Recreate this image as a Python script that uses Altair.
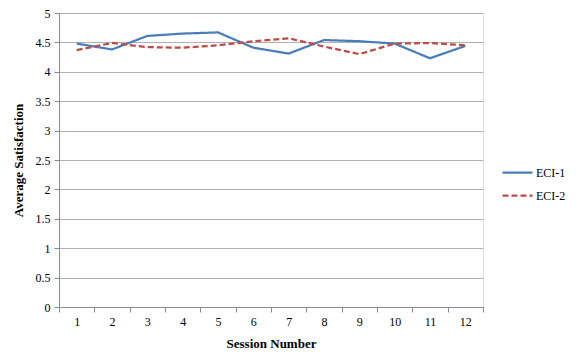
import altair as alt
import pandas as pd

sessions = [str(i) for i in range(1, 13)]
eci1 = [4.48, 4.38, 4.61, 4.65, 4.67, 4.41, 4.31, 4.54, 4.52, 4.48, 4.23, 4.44]
eci2 = [4.37, 4.49, 4.42, 4.41, 4.45, 4.52, 4.57, 4.43, 4.30, 4.48, 4.49, 4.45]
series_names = ["ECI-1", "ECI-2"]
y_ticks = [0, 0.5, 1, 1.5, 2, 2.5, 3, 3.5, 4, 4.5, 5]

rows = []
for name, vals in zip(series_names, [eci1, eci2]):
    for s, v in zip(sessions, vals):
        rows.append({"Session": s, "Value": v, "Series": name})
df = pd.DataFrame(rows)

FONT = "Liberation Serif"

chart = alt.Chart(df).mark_line(strokeWidth=2.25).encode(
    x=alt.X("Session:O", sort=sessions,
            scale=alt.Scale(paddingInner=0, paddingOuter=0, padding=0),
            axis=alt.Axis(title="Session Number", labelAngle=0, tickBand="extent",
                          grid=False, labelFont=FONT, labelFontSize=12, labelColor="#000",
                          titleFont=FONT, titleFontSize=13, titleFontWeight="bold",
                          titleColor="#000", titleY=36, titleBaseline="middle",
                          domainColor="#8c8c8c", tickColor="#8c8c8c", tickSize=5,
                          labelPadding=4)),
    y=alt.Y("Value:Q", scale=alt.Scale(domain=[0, 5], nice=False),
            axis=alt.Axis(title="Average Satisfaction", values=y_ticks, format="~g",
                          labelFont=FONT, labelFontSize=12, labelColor="#000",
                          titleFont=FONT, titleFontSize=13, titleFontWeight="bold",
                          titleColor="#000", titleAngle=270, titleX=-41, titleY=147,
                          titleBaseline="middle", titleAlign="center",
                          gridColor="#b0b0b0", gridWidth=1,
                          domainColor="#8c8c8c", tickColor="#8c8c8c", tickSize=5,
                          labelPadding=4)),
    color=alt.Color("Series:N",
                    scale=alt.Scale(domain=series_names, range=["#4a7ebb", "#be4b48"]),
                    legend=alt.Legend(title=None, orient="none", legendX=442, legendY=143,
                                      symbolType="stroke", symbolSize=900,
                                      symbolStrokeWidth=2.25, labelFont=FONT,
                                      labelFontSize=12, labelColor="#000",
                                      labelOffset=2, rowPadding=-2.4)),
    strokeDash=alt.StrokeDash("Series:N",
                              scale=alt.Scale(domain=series_names, range=[[1, 0], [6, 3]]),
                              legend=None),
).properties(
    width=424, height=294,
    autosize=alt.AutoSizeParams(type="none"),
    padding={"left": 51, "top": 5, "right": 85, "bottom": 45},
).configure_view(stroke=None).configure(background="white")

chart.save("out.html", embed_options={"renderer": "svg", "actions": False})
